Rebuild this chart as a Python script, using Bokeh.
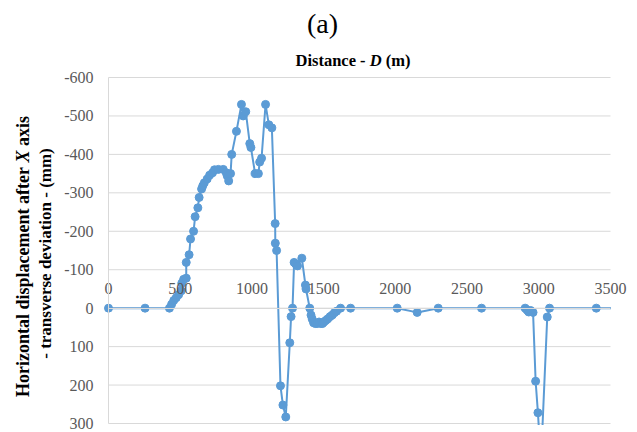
import math
from bokeh.plotting import figure
from bokeh.models import Range1d, FixedTicker, LinearAxis, Label
from bokeh.embed import file_html
from bokeh.resources import INLINE

# ---- data ----
distance_m = [0, 255, 425, 440, 455, 472, 489, 507, 511, 524, 542, 542, 562, 572, 593,
              604, 623, 632, 649, 657, 668, 688, 705, 725, 739, 766, 800, 821, 828, 838,
              851, 859, 892, 927, 939, 957, 985, 993, 1022, 1045, 1054, 1067, 1095, 1118,
              1139, 1162, 1163, 1172, 1199, 1216, 1236, 1264, 1273, 1283, 1294, 1305, 1318,
              1348, 1373, 1377, 1403, 1412, 1420, 1430, 1442, 1455, 1468, 1480, 1492, 1502,
              1515, 1528, 1545, 1560, 1575, 1590, 1618, 1688, 2013, 2152, 2299, 2601, 2905,
              2918, 2930, 2943, 2960, 2978, 2994, 3015, 3059, 3075, 3401, 3600]
displacement_mm = [0, 0, 0, -10, -20, -27, -35, -45, -65, -75, -78, -119, -139, -180, -200,
                   -238, -261, -288, -310, -318, -326, -336, -346, -352, -360, -361, -361, -352, -344, -331,
                   -350, -400, -460, -530, -500, -511, -428, -418, -350, -350, -380, -390, -530, -477,
                   -469, -220, -169, -150, 202, 252, 283, 90, 22, 0, -119, -115, -110,
                   -130, -60, -50, 0, 18, 28, 38, 40, 40, 36, 40, 40, 36,
                   32, 28, 22, 18, 12, 8, 0, 0, 0, 11, 0, 0, 0,
                   5, 10, 6, 11, 190, 272, 400, 23, 0, 0, 0]
x_ticks = [0, 500, 1000, 1500, 2000, 2500, 3000, 3500]
y_ticks = [-600, -500, -400, -300, -200, -100, 0, 100, 200, 300]

BLUE = "#5B9BD5"
GRID = "#d9d9d9"
TICK_TXT = "#595959"
SERIF = "Liberation Serif"

# ---- layout: the frame covers the whole canvas, the plot area sits inside it ----
W, H = 637, 432
X0, X1 = 0, 3500          # plot area limits (data)
Y_TOP, Y_BOT = -600, 300
AREA_L, AREA_R, AREA_T, AREA_B = 108, 610, 77, 423   # plot area in pixels
kx = (AREA_R - AREA_L) / (X1 - X0)
ky = (AREA_B - AREA_T) / (Y_BOT - Y_TOP)
x_range = Range1d(X0 - AREA_L / kx, X1 + (W - AREA_R) / kx)
y_range = Range1d(Y_BOT + (H - AREA_B) / ky, Y_TOP - AREA_T / ky)

p = figure(width=W, height=H, min_border=0,
           x_range=x_range, y_range=y_range,
           x_axis_location=None, y_axis_location=None,
           output_backend="svg", toolbar_location=None)
p.outline_line_color = None
p.background_fill_color = "white"
p.border_fill_color = "white"
p.xgrid.visible = False
p.ygrid.visible = False

# horizontal gridlines limited to the plot area
p.segment(x0=[X0] * len(y_ticks), x1=[X1] * len(y_ticks), y0=y_ticks, y1=y_ticks,
          line_color=GRID, line_width=1)

# series
p.line(distance_m, displacement_mm, line_color=BLUE, line_width=2)
p.scatter(distance_m, displacement_mm, size=8, fill_color=BLUE, line_color=BLUE)

# white masks: the series is cut at the plot-area border (like the original)
p.quad(left=[X0, X1 + 0.5 / kx], right=[X1 + 0.5 / kx, x_range.end],
       bottom=[y_range.start, y_range.start], top=[Y_BOT + 1.6 / ky, y_range.end],
       fill_color="white", line_color=None)

# y axis at x = 0
ya = LinearAxis(fixed_location=X0, ticker=FixedTicker(ticks=y_ticks), bounds=(Y_TOP, Y_BOT))
ya.major_label_overrides = {t: str(t) for t in y_ticks}
ya.major_tick_line_color = None
ya.major_tick_out = 0
ya.major_tick_in = 0
ya.minor_tick_line_color = None
ya.axis_line_color = GRID
ya.major_label_text_font = SERIF
ya.major_label_text_font_size = "16px"
ya.major_label_text_color = TICK_TXT
ya.major_label_standoff = 15
p.add_layout(ya, "left")

# x axis crossing at y = 0, labels above the line
xa = LinearAxis(fixed_location=0, ticker=FixedTicker(ticks=x_ticks), bounds=(X0, X1))
xa.major_tick_line_color = None
xa.major_tick_out = 0
xa.major_tick_in = 0
xa.minor_tick_line_color = None
xa.axis_line_color = GRID
xa.major_label_text_font = SERIF
xa.major_label_text_font_size = "16px"
xa.major_label_text_color = TICK_TXT
xa.major_label_standoff = 14
p.add_layout(xa, "above")

# ---- texts (canvas pixel coordinates) ----
def lab(x, y, text, **kw):
    opts = dict(x=x, y=y, x_units="canvas", y_units="canvas", text=text,
                text_font=SERIF, text_color="black")
    opts.update(kw)
    p.add_layout(Label(**opts))

# panel letter
lab(322, 23, "(a)", text_font_size="28px", text_align="center", text_baseline="middle")

# axis title on top: "Distance - D (m)"
lab(295, 60, "Distance -", text_font_size="16.5px", text_font_style="bold",
    text_align="left", text_baseline="middle")
lab(295, 60, "D", x_offset=74.2, text_font_size="16.5px", text_font_style="bold italic",
    text_align="left", text_baseline="middle")
lab(295, 60, "(m)", x_offset=90.3, text_font_size="16.5px", text_font_style="bold",
    text_align="left", text_baseline="middle")

# y axis title (two rotated lines)
A = math.pi / 2
lab(22, 396.5, "Horizontal displacement after", angle=A, text_font_size="18px",
    text_font_style="bold", text_align="left", text_baseline="middle")
lab(22, 162, "X", angle=A, text_font_size="18px",
    text_font_style="bold italic", text_align="left", text_baseline="middle")
lab(22, 145.5, "axis", angle=A, text_font_size="18px",
    text_font_style="bold", text_align="left", text_baseline="middle")
lab(45, 253, "- transverse deviation - (mm)", angle=A, text_font_size="17px",
    text_font_style="bold", text_align="center", text_baseline="middle")

open("out.html", "w").write(file_html(p, INLINE))
